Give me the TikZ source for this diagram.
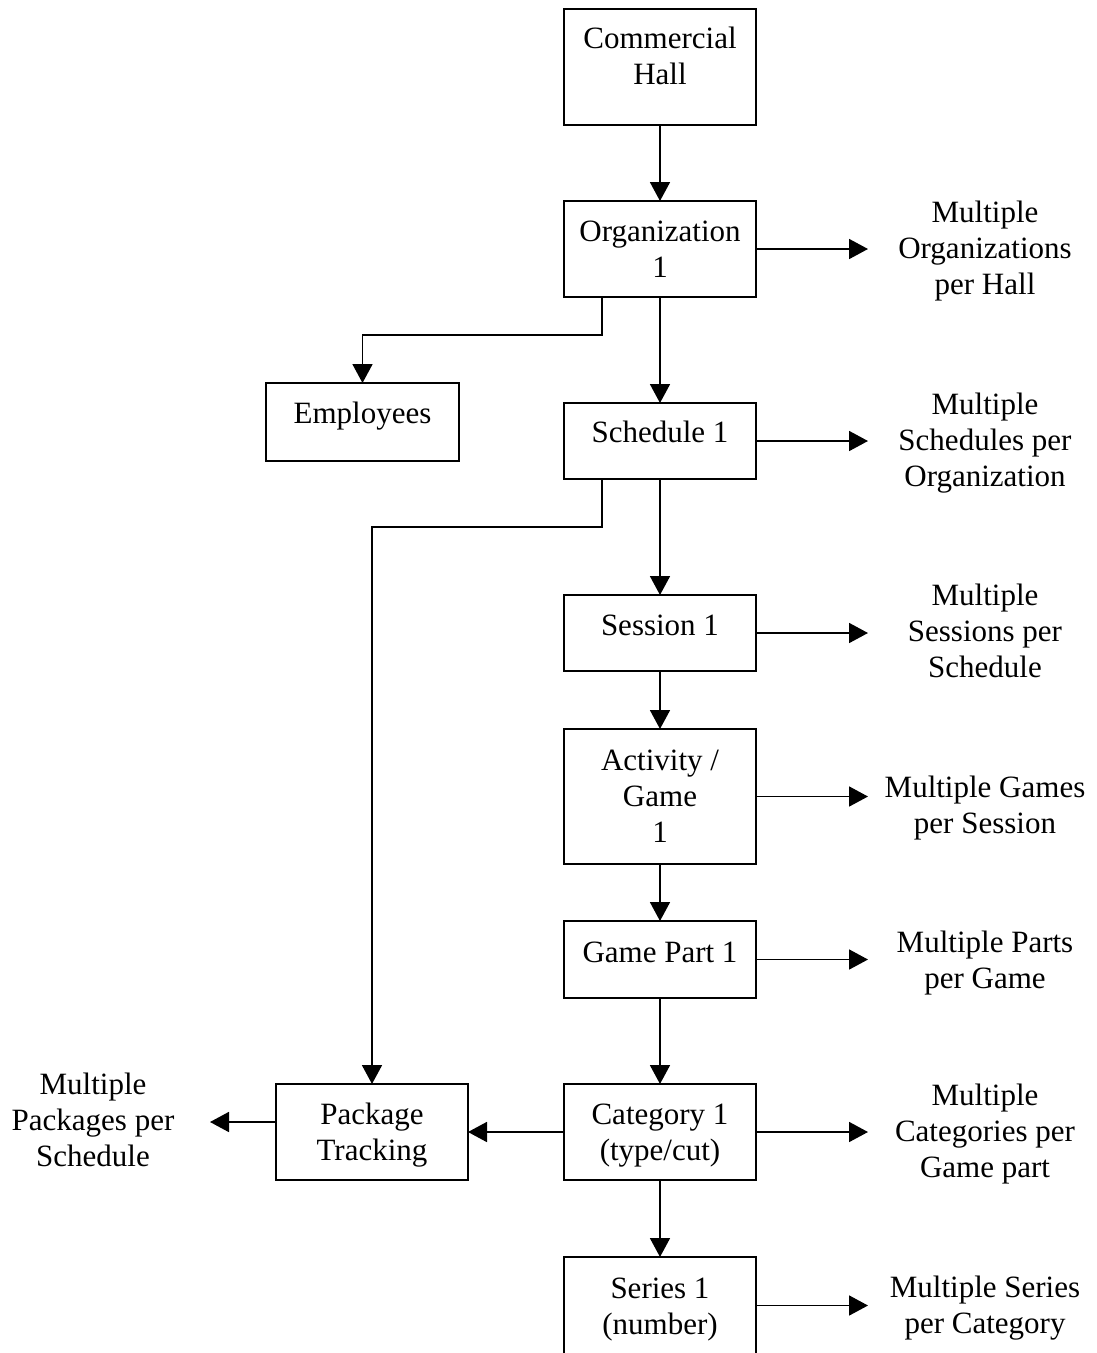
\documentclass[tikz,border=0pt]{standalone}
\usepackage{fontspec}
\setmainfont{Liberation Serif}
\usetikzlibrary{arrows.meta}
\newcommand\fsz{\fontsize{31}{36}\selectfont}
\begin{document}
\begin{tikzpicture}[x=1pt,y=-1pt,
  box/.style={draw, line width=1.8pt, minimum width=192pt, inner sep=0pt, outer sep=0pt, anchor=north west},
  txt/.style={align=center, inner sep=0pt, font=\fsz},
  arr/.style={-{Triangle[length=19pt,width=20pt]}, line width=1.8pt}]
\fill[white] (0,0) rectangle (1096,1353);
\useasboundingbox (0,0) rectangle (1096,1353);

% boxes
\node[box, minimum height=116pt] (hall) at (564,9) {};
\node[box, minimum height=96pt] (org) at (564,201) {};
\node[box, minimum width=193pt, minimum height=78pt] (emp) at (266,383) {};
\node[box, minimum height=76pt] (sch) at (564,403) {};
\node[box, minimum height=76pt] (ses) at (564,595) {};
\node[box, minimum height=135pt] (act) at (564,729) {};
\node[box, minimum height=77pt] (gp) at (564,921) {};
\node[box, minimum height=96pt] (pkg) at (276,1084) {};
\node[box, minimum height=96pt] (cat) at (564,1084) {};
\node[box, minimum height=97pt] (ser) at (564,1257) {};

% box texts
\node[txt] (thall) at (660,59) {\strut Commercial\\\strut Hall};
\node[txt] (torg) at (660,252) {\strut Organization\\\strut 1};
\node[txt] (temp) at (362.5,416) {\strut Employees};
\node[txt] (tsch) at (660,435) {\strut Schedule 1};
\node[txt] (tses) at (660,628) {\strut Session 1};
\node[txt] (tact) at (660,799) {\strut Activity /\\\strut Game\\\strut 1};
\node[txt] (tgp) at (660,955) {\strut Game Part 1};
\node[txt] (tpkg) at (372,1135) {\strut Package\\\strut Tracking};
\node[txt] (tcat) at (660,1135) {\strut Category 1\\\strut (type/cut)};
\node[txt] (tser) at (660,1309) {\strut Series 1\\\strut (number)};

% side labels
\node[txt] (lorg) at (985,251) {\strut Multiple\\\strut Organizations\\\strut per Hall};
\node[txt] (lsch) at (985,443) {\strut Multiple\\\strut Schedules per\\\strut Organization};
\node[txt] (lses) at (985,634) {\strut Multiple\\\strut Sessions per\\\strut Schedule};
\node[txt] (lact) at (985,808) {\strut Multiple Games\\\strut per Session};
\node[txt] (lgp) at (985,963) {\strut Multiple Parts\\\strut per Game};
\node[txt] (lcat) at (985,1134) {\strut Multiple\\\strut Categories per\\\strut Game part};
\node[txt] (lser) at (985,1308) {\strut Multiple Series\\\strut per Category};
\node[txt] (lpkg) at (93,1123) {\strut Multiple\\\strut Packages per\\\strut Schedule};

% vertical chain
\draw[arr] (hall) -- (org);
\draw[arr] (org) -- (sch);
\draw[arr] (sch) -- (ses);
\draw[arr] (ses) -- (act);
\draw[arr] (act) -- (gp);
\draw[arr] (gp) -- (cat);
\draw[arr] (cat) -- (ser);

% elbows
\draw[arr] ([xshift=38pt]org.south west) -- ++(0,38) -| (emp.north);
\draw[arr] ([xshift=38pt]sch.south west) -- ++(0,48) -| (pkg.north);

% horizontal
\draw[arr] (cat.west) -- (pkg.east);
\draw[arr] ([yshift=10pt]pkg.west) -- ++(-66,0);

% to side labels
\draw[arr] (org.east) -- ++(112,0);
\draw[arr] (sch.east) -- ++(112,0);
\draw[arr] (ses.east) -- ++(112,0);
\draw[arr] (act.east) -- ++(112,0);
\draw[arr] (gp.east) -- ++(112,0);
\draw[arr] (cat.east) -- ++(112,0);
\draw[arr] (ser.east) -- ++(112,0);
\end{tikzpicture}
\end{document}
